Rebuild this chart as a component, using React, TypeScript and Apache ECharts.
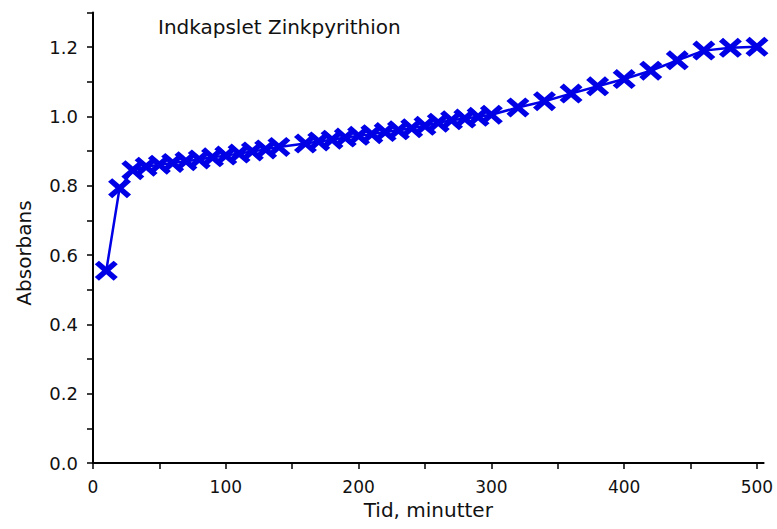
import React, { useEffect, useRef } from "react";
import * as echarts from "echarts";

const titleText = "Indkapslet Zinkpyrithion";
const xName = "Tid, minutter";
const yName = "Absorbans";

const times = [
  10, 20, 30, 40, 50, 60, 70, 80, 90, 100, 110, 120, 130, 140,
  160, 170, 180, 190, 200, 210, 220, 230, 240, 250, 260, 270, 280, 290, 300,
  320, 340, 360, 380, 400, 420, 440, 460, 480, 500,
];
const absorbans = [
  0.555, 0.793, 0.845, 0.855, 0.861, 0.866, 0.871, 0.876, 0.882, 0.887, 0.893, 0.899, 0.905, 0.912,
  0.922, 0.928, 0.933, 0.939, 0.944, 0.949, 0.955, 0.960, 0.966, 0.973, 0.982, 0.989, 0.994, 0.999, 1.005,
  1.026, 1.044, 1.066, 1.087, 1.108, 1.132, 1.162, 1.190, 1.198, 1.201,
];

const xTickValues = [0, 50, 100, 150, 200, 250, 300, 350, 400, 450, 500];
const xLabelValues = [0, 100, 200, 300, 400, 500];
const yTickValues = [0, 0.1, 0.2, 0.3, 0.4, 0.5, 0.6, 0.7, 0.8, 0.9, 1.0, 1.1, 1.2, 1.3];
const yLabelValues = [0, 0.2, 0.4, 0.6, 0.8, 1.0, 1.2];

const crossPath =
  "path://M0,3.6 L3.6,0 L10,6.4 L16.4,0 L20,3.6 L13.6,10 L20,16.4 L16.4,20 L10,13.6 L3.6,20 L0,16.4 L6.4,10 Z";

export default function App() {
  const ref = useRef<HTMLDivElement>(null);
  useEffect(() => {
    if (!ref.current) return;
    const chart = echarts.init(ref.current, null, { renderer: "svg" });
    const font = "'DejaVu Sans', sans-serif";
    const blue = "#0000e6";
    chart.setOption({
      animation: false,
      backgroundColor: "#ffffff",
      title: {
        text: titleText,
        left: 153,
        top: 12,
        textStyle: { fontFamily: font, fontSize: 20, fontWeight: "normal", color: "#111" },
      },
      graphic: [
        {
          type: "text",
          x: 24,
          y: 253,
          rotation: Math.PI / 2,
          style: {
            text: yName,
            fontFamily: font,
            fontSize: 20,
            fill: "#111",
            align: "center",
            verticalAlign: "middle",
          },
        },
      ],
      grid: { left: 93, right: 13.4, top: 12.5, bottom: 66 },
      xAxis: {
        type: "value",
        min: 0,
        max: 505,
        name: xName,
        nameLocation: "middle",
        nameGap: 37,
        nameTextStyle: { fontFamily: font, fontSize: 20, color: "#111" },
        axisLine: { show: true, lineStyle: { color: "#000", width: 2 } },
        axisTick: { show: true, length: 6, inside: false, customValues: xTickValues, lineStyle: { color: "#000", width: 1.5 } },
        axisLabel: { customValues: xLabelValues, margin: 15, fontFamily: font, fontSize: 17, color: "#111" },
        splitLine: { show: false },
      },
      yAxis: {
        type: "value",
        min: 0,
        max: 1.3,
        axisLine: { show: true, lineStyle: { color: "#000", width: 2 } },
        axisTick: { show: true, length: 6, inside: false, customValues: yTickValues, lineStyle: { color: "#000", width: 1.5 } },
        axisLabel: {
          customValues: yLabelValues,
          margin: 15,
          fontFamily: font,
          fontSize: 18,
          color: "#111",
          formatter: (v: number) => v.toFixed(1),
        },
        splitLine: { show: false },
      },
      series: [
        {
          type: "line",
          data: times.map((t, i) => [t, absorbans[i]]),
          clip: false,
          symbol: crossPath,
          symbolSize: [23, 20],
          showAllSymbol: true,
          lineStyle: { color: blue, width: 2.5 },
          itemStyle: { color: blue, borderWidth: 0 },
        },
      ],
    });
    return () => chart.dispose();
  }, []);
  return (
    <div
      ref={ref}
      style={{ position: "fixed", left: 0, top: 0, width: 777, height: 529, background: "#fff" }}
    />
  );
}
